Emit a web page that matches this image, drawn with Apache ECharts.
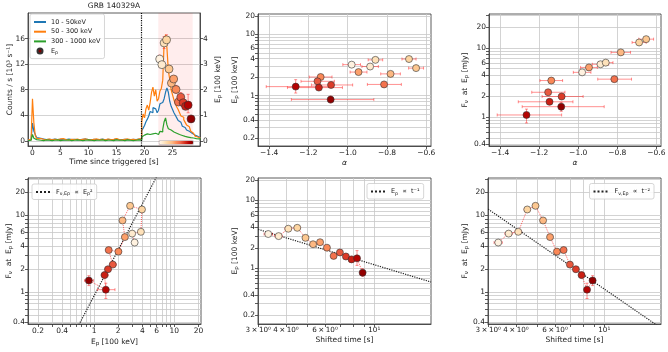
<!DOCTYPE html>
<html>
<head>
<meta charset="utf-8">
<script src="https://cdn.jsdelivr.net/npm/echarts@6/dist/echarts.min.js"></script>
<style>
  html, body { margin: 0; padding: 0; background: #fff; }
  #chart { width: 668px; height: 352px; }
</style>
</head>
<body>
<div id="chart"></div>
<script>
// light curves, counts / s in units of 1e3, bin start times [s]
const lcTime = [-0.75, -0.5, -0.25, 0, 0.25, 0.5, 0.75,
  1, 1.5, 2, 2.5, 3, 3.5, 4, 4.5, 5, 5.5, 6, 6.5, 7, 7.5, 8, 8.5, 9, 9.5, 10, 10.5,
  11, 11.5, 12, 12.5, 13, 13.5, 14, 14.5, 15, 15.5, 16, 16.5, 17, 17.5, 18, 18.5, 19,
  19.25, 19.5, 19.75, 20, 20.25, 20.5, 20.75, 21, 21.25, 21.5, 21.75, 22, 22.25, 22.5, 22.75,
  23, 23.25, 23.5, 23.75, 24, 24.25, 24.5, 24.75, 25, 25.25, 25.5, 25.75, 26, 26.25, 26.5, 26.75,
  27, 27.25, 27.5, 27.75, 28, 28.25, 28.5, 28.75, 29, 29.25, 29.5, 29.75, 30];
const lcSoft = [0.15, 0.2, 0.15, 2.8, 1.5, 1.0, 0.5,
  0.4, 0.3, 0.2, 0.25, 0.2, 0.3, 0.2, 0.25, 0.15, 0.2, 0.3, 0.2, 0.25, 0.15, 0.2, 0.25, 0.3, 0.2,
  0.15, 0.25, 0.2, 0.2, 0.3, 0.15, 0.25, 0.2, 0.2, 0.3, 0.15, 0.2, 0.25, 0.2, 0.15, 0.25, 0.2, 0.3, 0.2,
  0.2, 1.6, 2.0, 2.4, 3.0, 3.4, 3.9, 4.6, 4.4, 5.2, 5.0, 5.3, 4.4, 4.8, 5.8, 6.0, 6.3, 6.6, 7.6, 8.3,
  7.6, 6.2, 5.4, 4.9, 4.4, 4.0, 3.6, 3.2, 2.9, 2.6, 2.3, 2.1, 1.9, 1.7, 1.5, 1.35, 1.2, 1.05, 0.9, 0.8,
  0.7, 0.6, 0.5, 0.45];
const lcMid = [0.2, 0.15, 0.3, 6.6, 2.8, 0.8, 0.4,
  0.35, 0.25, 0.2, 0.3, 0.15, 0.25, 0.2, 0.3, 0.35, 0.2, 0.15, 0.25, 0.2, 0.3, 0.15, 0.25, 0.3, 0.2,
  0.15, 0.25, 0.3, 0.2, 0.25, 0.15, 0.3, 0.2, 0.25, 0.35, 0.2, 0.15, 0.25, 0.3, 0.2, 0.25, 0.15, 0.3, 0.2,
  0.3, 3.0, 4.2, 3.6, 5.0, 5.6, 4.8, 6.0, 7.6, 8.4, 7.0, 8.0, 6.2, 6.6, 7.8, 8.2, 9.5, 15.5, 16.6, 14.5,
  11.0, 9.6, 8.0, 7.2, 6.4, 5.8, 5.3, 4.9, 4.4, 3.9, 3.7, 3.3, 2.9, 2.5, 2.2, 1.9, 1.5, 1.2, 0.95, 0.75,
  0.6, 0.5, 0.45, 0.4];
const lcHard = [0.05, 0.1, 0.1, 1.0, 0.4, 0.2, 0.1,
  0.1, 0.05, 0.15, 0.1, 0.05, 0.1, 0.15, 0.05, 0.1, 0.1, 0.15, 0.05, 0.1, 0.15, 0.1, 0.05, 0.1, 0.15,
  0.1, 0.05, 0.1, 0.1, 0.15, 0.05, 0.1, 0.1, 0.05, 0.15, 0.1, 0.1, 0.05, 0.15, 0.1, 0.05, 0.1, 0.15, 0.1,
  0.1, 0.6, 0.9, 0.8, 1.1, 0.9, 1.0, 1.3, 1.1, 0.9, 1.2, 1.3, 1.0, 1.2, 1.5, 1.4, 1.8, 3.0, 3.6, 2.5,
  1.9, 1.7, 1.6, 1.4, 1.3, 1.2, 1.1, 1.0, 0.9, 0.85, 0.8, 0.7, 0.7, 0.6, 0.55, 0.5, 0.5, 0.45, 0.4, 0.35,
  0.35, 0.3, 0.3, 0.3];

// time-resolved spectral fits (14 intervals)
const tObs = [22.7, 23.1, 23.5, 23.93, 24.37, 24.8, 25.2, 25.62, 26.05, 26.47, 26.9, 27.33, 27.78, 28.3];
const tShift = [3.33, 3.71, 4.10, 4.50, 4.90, 5.30, 5.70, 6.12, 6.56, 7.00, 7.45, 7.90, 8.36, 8.86];
const tHalf = [0.14, 0.14, 0.14, 0.14, 0.14, 0.14, 0.14, 0.14, 0.14, 0.14, 0.14, 0.14, 0.14, 0.14];
const epeak = [3.2, 2.98, 3.83, 3.95, 2.81, 2.26, 2.42, 2.01, 1.52, 1.71, 1.49, 1.35, 1.4, 0.86];
const epLo = [0.15, 0.1, 0.22, 0.18, 0.12, 0.1, 0.12, 0.14, 0.1, 0.15, 0.12, 0.12, 0.3, 0.1];
const epHi = [0.15, 0.1, 0.25, 0.2, 0.12, 0.1, 0.12, 0.16, 0.1, 0.18, 0.14, 0.15, 0.42, 0.12];
const alpha = [-0.98, -0.886, -0.859, -0.688, -0.652, -0.782, -0.945, -1.138, -0.815, -1.154, -1.085, -1.147, -1.265, -1.087];
const alphaLo = [0.045, 0.042, 0.037, 0.036, 0.038, 0.05, 0.043, 0.058, 0.085, 0.084, 0.1, 0.16, 0.15, 0.2];
const alphaHi = [0.045, 0.042, 0.037, 0.036, 0.038, 0.05, 0.043, 0.058, 0.088, 0.086, 0.11, 0.12, 0.18, 0.22];
const fluxEp = [4.43, 5.8, 6.12, 12.0, 13.4, 8.62, 5.22, 3.37, 3.53, 2.28, 1.98, 1.66, 1.07, 1.41];
const fLo = [0.15, 0.2, 0.2, 0.5, 0.5, 0.3, 0.2, 0.15, 0.15, 0.12, 0.15, 0.15, 0.25, 0.2];
const fHi = [0.15, 0.2, 0.2, 0.5, 0.5, 0.3, 0.2, 0.15, 0.15, 0.12, 0.15, 0.15, 0.23, 0.22];

// power-law guides
const normFE2 = 0.89;   // F = k Ep^2
const normEt1 = 11.25;  // Ep = k / t
const normFt2 = 109;    // F = k / t^2
const trigLine = 19.45;
const fitWindow = [22.45, 28.6];

// tick labels and grid positions
const tickTime = [0, 5, 10, 15, 20, 25];
const tickCounts = [0, 4, 8, 12, 16];
const tickEpRight = [0, 1, 2, 3, 4];
const tickAlpha = [-1.4, -1.2, -1.0, -0.8, -0.6];
const gridEp = [0.2, 0.3, 0.4, 0.5, 0.6, 0.7, 0.8, 0.9, 1, 2, 3, 4, 5, 6, 7, 8, 9, 10, 20];
const tickEp = [0.2, 0.4, 1, 2, 4, 6, 10, 20];
const tickEpTop = 20;   // top Ep label sits at the frame edge; drawn separately on the vertical Ep axes
const gridF = [0.4, 0.5, 0.6, 0.7, 0.8, 0.9, 1, 2, 3, 4, 5, 6, 7, 8, 9, 10, 20, 30];
const tickF = [0.4, 1, 2, 4, 6, 10, 20];
const gridT = [3, 4, 5, 6, 7, 8, 9, 10];
const tickT = [3, 4, 6, 10];
const tLabels = { 3: '3\u202F×\u202F10⁰', 4: '4\u202F×\u202F10⁰', 6: '6\u202F×\u202F10⁰', 10: '10¹' };

const FONT = 'DejaVu Sans';
const TXT = '#222';
const FRAME = '#333';
const GRIDC = '#c8c8c8';
const ERRC = 'rgba(255,30,30,0.55)';
const cmap = ['#fff7ec', '#fee8c8', '#fdd49e', '#fdbb84', '#fc8d59', '#ef6548', '#d7301f', '#b30000', '#7f0000'];

const rich = {
  n: { fontSize: 7.5, lineHeight: 10, color: TXT, fontFamily: FONT },
  s: { fontSize: 5.5, lineHeight: 6, verticalAlign: 'bottom', color: TXT, fontFamily: FONT }
};
const richLeg = {
  n: { fontSize: 6.5, lineHeight: 9, color: TXT, fontFamily: FONT },
  s: { fontSize: 4.8, lineHeight: 5, verticalAlign: 'bottom', color: TXT, fontFamily: FONT }
};
const NAME_EP = '{n|E}{s|p}{n| [100 keV]}';
const NAME_F = '{n|F}{s|ν}{n|  at  E}{s|p}{n| [mJy]}';
const LEG = {
  Ep: '{n|E}{s|p}',
  fitE2: '{n|F}{s|ν,Ep}{n|  ∝  E}{s|p}{n|²}',
  fitT1: '{n|E}{s|p}{n|  ∝  t⁻¹}',
  fitT2: '{n|F}{s|ν,Ep}{n|  ∝  t⁻²}'
};

const numFmt = v => String(Number(v.toPrecision(3)));
const alphaFmt = v => (v < 0 ? '\u2212' : '') + Math.abs(v).toFixed(1);

function axis(o) {
  return {
    gridIndex: o.grid, type: o.type || 'value', position: o.pos, min: o.min, max: o.max, logBase: 10,
    name: o.name, nameLocation: 'middle', nameGap: o.gap, nameMoveOverlap: false,
    nameTextStyle: { fontSize: 7.5, color: TXT, fontFamily: FONT, fontStyle: o.italic ? 'italic' : 'normal', rich: rich },
    axisLine: { show: true, onZero: false, lineStyle: { color: FRAME, width: 0.8 } },
    axisTick: { show: true, length: 3, lineStyle: { color: FRAME, width: 0.8 }, customValues: o.ticks },
    axisLabel: {
      show: true, customValues: o.labels || o.ticks, fontSize: o.labelSize || 7.5, color: TXT, fontFamily: FONT,
      margin: 3, hideOverlap: false, showMinLabel: true, showMaxLabel: true, formatter: o.fmt || numFmt
    },
    splitLine: { show: !!o.split, lineStyle: { color: GRIDC, width: 0.8 } },
    minorTick: { show: false }, minorSplitLine: { show: false }
  };
}

function renderErr(params, api) {
  const x = api.value(0), y = api.value(1);
  const x0 = api.value(2), x1 = api.value(3), y0 = api.value(4), y1 = api.value(5);
  const st = { stroke: ERRC, lineWidth: 0.9 };
  const kids = [];
  const seg = (a, b) => kids.push({ type: 'line', shape: { x1: a[0], y1: a[1], x2: b[0], y2: b[1] }, style: st });
  if (x1 > x0) {
    const a = api.coord([x0, y]), b = api.coord([x1, y]);
    seg(a, b);
    seg([a[0], a[1] - 1.5], [a[0], a[1] + 1.5]);
    seg([b[0], b[1] - 1.5], [b[0], b[1] + 1.5]);
  }
  if (y1 > y0) {
    const a = api.coord([x, y0]), b = api.coord([x, y1]);
    seg(a, b);
    seg([a[0] - 1.5, a[1]], [a[0] + 1.5, a[1]]);
    seg([b[0] - 1.5, b[1]], [b[0] + 1.5, b[1]]);
  }
  return { type: 'group', children: kids };
}

function bars(xi, yi, xs, ys, xLo, xHi, yLo, yHi) {
  return {
    type: 'custom', xAxisIndex: xi, yAxisIndex: yi, z: 4, silent: true, renderItem: renderErr,
    encode: { x: 0, y: 1 },
    data: xs.map((x, k) => [x, ys[k],
      xLo ? x - xLo[k] : x, xHi ? x + xHi[k] : x,
      yLo ? ys[k] - yLo[k] : ys[k], yHi ? ys[k] + yHi[k] : ys[k]])
  };
}

function dots(name, xi, yi, xs, ys, size) {
  return {
    type: 'scatter', name: name, xAxisIndex: xi, yAxisIndex: yi, symbolSize: size, z: 5,
    data: xs.map((x, k) => [x, ys[k], tObs[k]]),
    itemStyle: { color: '#7f0000', borderColor: '#333', borderWidth: 0.6, opacity: 1 }
  };
}

function trail(xi, yi, xs, ys) {
  return {
    type: 'line', xAxisIndex: xi, yAxisIndex: yi, symbol: 'none', z: 3, silent: true,
    lineStyle: { type: 'dotted', color: 'rgba(255,0,0,0.6)', width: 1 },
    data: xs.map((x, k) => [x, ys[k]])
  };
}

function guide(name, xi, yi, pts) {
  return {
    type: 'line', name: name, xAxisIndex: xi, yAxisIndex: yi, symbol: 'none', z: 3, silent: true,
    lineStyle: { type: 'dotted', color: '#222', width: 1.2 }, itemStyle: { color: '#222' },
    data: pts
  };
}

function lc(name, vals, color, extra) {
  return Object.assign({
    type: 'line', name: name, xAxisIndex: 0, yAxisIndex: 0, step: 'end', symbol: 'none', z: 2,
    lineStyle: { color: color, width: 1.2 }, itemStyle: { color: color },
    data: lcTime.map((t, k) => [t, vals[k]])
  }, extra || {});
}

const series = [];
const dotIdx = [];
function add(s, isDot) { if (isDot) dotIdx.push(series.length); series.push(s); }

// panel 1: light curves + Ep
add(lc('10 - 50keV', lcSoft, '#1f77b4', {
  markArea: { silent: true, itemStyle: { color: 'rgba(255,0,0,0.07)' }, data: [[{ xAxis: fitWindow[0] }, { xAxis: fitWindow[1] }]] },
  markLine: { silent: true, symbol: ['none', 'none'], label: { show: false },
    lineStyle: { type: 'dotted', color: '#000', width: 1.2 }, data: [{ xAxis: trigLine }] }
}));
add(lc('50 - 300 keV', lcMid, '#ff7f0e'));
add(lc('300 - 1000 keV', lcHard, '#2ca02c'));
add(bars(0, 1, tObs, epeak, null, null, epLo, epHi));
add(dots('Ep', 0, 1, tObs, epeak, 8), true);

// panel 2: Ep vs alpha
add(bars(1, 2, alpha, epeak, alphaLo, alphaHi, epLo, epHi));
add(dots('p2', 1, 2, alpha, epeak, 7), true);

// panel 3: F vs alpha
add(bars(2, 3, alpha, fluxEp, alphaLo, alphaHi, fLo, fHi));
add(dots('p3', 2, 3, alpha, fluxEp, 7), true);

// panel 4: F vs Ep
add(trail(3, 4, epeak, fluxEp));
add(guide('fitE2', 3, 4, [[0.5, normFE2 * 0.25], [8, normFE2 * 64]]));
add(bars(3, 4, epeak, fluxEp, epLo, epHi, fLo, fHi));
add(dots('p4', 3, 4, epeak, fluxEp, 7), true);

// panel 5: Ep vs shifted time
add(trail(4, 5, tShift, epeak));
add(guide('fitT1', 4, 5, [[3, normEt1 / 3], [18, normEt1 / 18]]));
add(bars(4, 5, tShift, epeak, tHalf, tHalf, epLo, epHi));
add(dots('p5', 4, 5, tShift, epeak, 7), true);

// panel 6: F vs shifted time
add(trail(5, 6, tShift, fluxEp));
add(guide('fitT2', 5, 6, [[3, normFt2 / 9], [18, normFt2 / 324]]));
add(bars(5, 6, tShift, fluxEp, tHalf, tHalf, fLo, fHi));
add(dots('p6', 5, 6, tShift, fluxEp, 7), true);

const gridBoxes = [
  [28, 13, 172, 133], [258, 14, 173, 132], [489, 14, 172, 132],
  [28, 178, 173, 146], [258, 178, 173, 146], [488, 178, 173, 146]
];
const gridBox = b => ({
  left: b[0], top: b[1], width: b[2], height: b[3], show: true, borderColor: FRAME, borderWidth: 0.8,
  backgroundColor: 'transparent', containLabel: false, outerBoundsMode: 'none'
});

// line entries hide the marker dot that echarts puts on line legend icons
const lineItem = name => ({ name: name, itemStyle: { opacity: 0 } });

function legend(left, top, items, itemWidth, vertical) {
  return {
    left, top, orient: vertical ? 'vertical' : 'horizontal', data: items, selectedMode: false,
    itemWidth: itemWidth, itemHeight: 5, itemGap: 0.7, padding: [3.5, 4, 3, 3],
    borderColor: '#cccccc', borderWidth: 0.8, borderRadius: 2, backgroundColor: 'rgba(255,255,255,0.85)',
    textStyle: { fontSize: 6.5, lineHeight: 9, color: TXT, fontFamily: FONT, rich: richLeg },
    formatter: n => LEG[n] || n
  };
}

const timeFmt = v => tLabels[Math.round(v)] || '';
const EP_RANGE = [0.15, 21.5];
const F_RANGE = [0.38, 31];
const tickEpLow = tickEp.filter(v => v !== tickEpTop);

const option = {
  animation: false,
  backgroundColor: '#fff',
  textStyle: { fontFamily: FONT },
  title: { text: 'GRB 140329A', left: 114, top: 2, textAlign: 'center', padding: 0,
    textStyle: { fontSize: 7.5, fontWeight: 'normal', color: TXT, fontFamily: FONT } },
  grid: gridBoxes.map(gridBox),
  xAxis: [
    axis({ grid: 0, min: -0.8, max: 29.9, ticks: tickTime, name: 'Time since triggered [s]', gap: 12 }),
    axis({ grid: 1, min: -1.457, max: -0.576, ticks: tickAlpha, split: true, fmt: alphaFmt, name: 'α', italic: true, gap: 13 }),
    axis({ grid: 2, min: -1.457, max: -0.576, ticks: tickAlpha, split: true, fmt: alphaFmt, name: 'α', italic: true, gap: 13 }),
    axis({ grid: 3, type: 'log', min: EP_RANGE[0], max: EP_RANGE[1], ticks: gridEp, labels: tickEp, split: true, name: NAME_EP, gap: 13 }),
    axis({ grid: 4, type: 'log', min: 2.995, max: 18, ticks: gridT, labels: tickT, split: true, labelSize: 7.2,
      fmt: timeFmt, name: 'Shifted time [s]', gap: 12 }),
    axis({ grid: 5, type: 'log', min: 2.995, max: 18, ticks: gridT, labels: tickT, split: true, labelSize: 7.2,
      fmt: timeFmt, name: 'Shifted time [s]', gap: 12 })
  ],
  yAxis: [
    axis({ grid: 0, pos: 'left', min: -0.8, max: 20, ticks: tickCounts, split: true, name: 'Counts / s [10³ s⁻¹]', gap: 14 }),
    axis({ grid: 0, pos: 'right', min: -0.2, max: 5, ticks: tickEpRight, name: NAME_EP, gap: 13 }),
    axis({ grid: 1, pos: 'left', type: 'log', min: EP_RANGE[0], max: EP_RANGE[1], ticks: gridEp, labels: tickEpLow, split: true, name: NAME_EP, gap: 18 }),
    axis({ grid: 2, pos: 'left', type: 'log', min: F_RANGE[0], max: F_RANGE[1], ticks: gridF, labels: tickF, split: true, name: NAME_F, gap: 19 }),
    axis({ grid: 3, pos: 'left', type: 'log', min: F_RANGE[0], max: F_RANGE[1], ticks: gridF, labels: tickF, split: true, name: NAME_F, gap: 14 }),
    axis({ grid: 4, pos: 'left', type: 'log', min: EP_RANGE[0], max: EP_RANGE[1], ticks: gridEp, labels: tickEpLow, split: true, name: NAME_EP, gap: 18 }),
    axis({ grid: 5, pos: 'left', type: 'log', min: F_RANGE[0], max: F_RANGE[1], ticks: gridF, labels: tickF, split: true, name: NAME_F, gap: 18 })
  ],
  legend: [
    legend(30, 14, [lineItem('10 - 50keV'), lineItem('50 - 300 keV'), lineItem('300 - 1000 keV'), 'Ep'], 12, true),
    legend(32, 184, [lineItem('fitE2')], 15),
    legend(367, 183.5, [lineItem('fitT1')], 15),
    legend(589.5, 183.5, [lineItem('fitT2')], 16)
  ],
  visualMap: [{
    type: 'continuous', min: fitWindow[0], max: fitWindow[1], dimension: 2, seriesIndex: dotIdx,
    inRange: { color: cmap }, orient: 'horizontal', left: 159, top: 140.5,
    itemWidth: 3.5, itemHeight: 34, calculable: false, hoverLink: false, text: null,
    padding: 0, borderColor: '#888', borderWidth: 0.5
  }],
  series: series
};

const chart = echarts.init(document.getElementById('chart'), null, { renderer: 'canvas' });
chart.setOption(option);

// echarts culls a y label this close to the frame top, so add it as plain text at the axis position
function topEpLabel(gridIdx, xAxisIndex, yAxisIndex) {
  const b = gridBoxes[gridIdx];
  let py = NaN;
  try {
    const p = chart.convertToPixel({ xAxisIndex: xAxisIndex, yAxisIndex: yAxisIndex }, [0, tickEpTop]);
    py = Array.isArray(p) ? p[1] : p;
  } catch (e) { py = NaN; }
  if (!isFinite(py)) {
    const lg = Math.log10;
    py = b[1] + b[3] * (lg(EP_RANGE[1]) - lg(tickEpTop)) / (lg(EP_RANGE[1]) - lg(EP_RANGE[0]));
  }
  return {
    type: 'text', x: b[0] - 3, y: py, silent: true, z: 100,
    style: { text: numFmt(tickEpTop), font: '7.5px "DejaVu Sans"', fill: TXT,
      align: 'right', verticalAlign: 'middle', textAlign: 'right', textVerticalAlign: 'middle' }
  };
}
chart.setOption({ graphic: { elements: [topEpLabel(1, 1, 2), topEpLabel(4, 4, 5)] } });
</script>
</body>
</html>
